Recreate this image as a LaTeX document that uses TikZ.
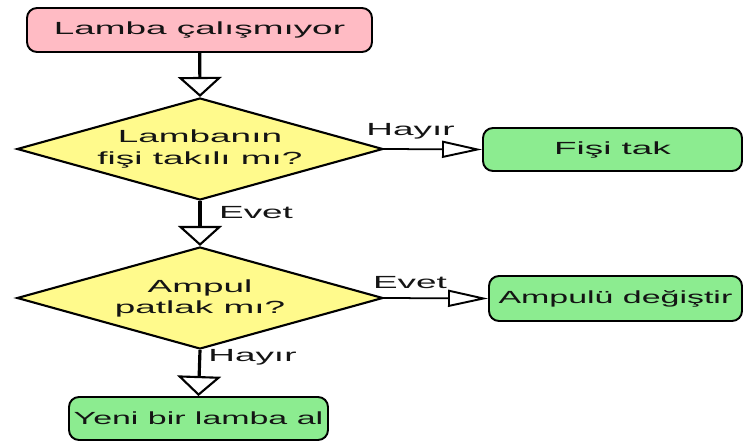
\documentclass[tikz,border=0pt]{standalone}
\usepackage{fontspec}
\newfontfamily\flowfont[FakeStretch=2.1]{Liberation Sans}
\newfontfamily\snugfont[FakeStretch=1.93]{Liberation Sans}
\usetikzlibrary{shapes.geometric,arrows.meta}
\definecolor{startpink}{RGB}{255,187,196}
\definecolor{askyellow}{RGB}{255,250,140}
\definecolor{dogreen}{RGB}{140,236,144}

\begin{document}
\begin{tikzpicture}[line width=1.1pt, font=\flowfont, text=black!92]
\tikzset{startbox/.style={draw, rectangle, rounded corners=0.2cm, fill=startpink,
minimum width=6.9cm, minimum height=0.88cm},
actbox/.style={draw, rectangle, rounded corners=0.2cm, fill=dogreen,
inner xsep=1pt, minimum height=0.86cm},
question/.style={draw, diamond, fill=askyellow, inner sep=0pt,
minimum width=7.32cm, minimum height=2.04cm, line width=1.2pt},
downflow/.style={line width=1.8pt,
-{Triangle[open, length=0.4cm, width=0.88cm, line width=1.2pt]}},
sideflow/.style={line width=1pt,
-{Triangle[open, length=0.8cm, width=0.34cm, line width=1.1pt]}},
answer/.style={inner sep=2pt},
}
\useasboundingbox (0,0) rectangle (14.88,8.82);
\node[startbox] (start) at (3.99,8.22) {Lamba çalışmıyor};
\node[question, label={[align=center]center:Lambanın\\fişi takılı mı?}] (plugq) at (4.0,5.84) {};
\node[actbox, minimum width=5.18cm] (plug) at (12.25,5.83) {Fişi tak};
\node[question, label={[align=center]center:Ampul\\patlak mı?}] (bulbq) at (4.0,2.86) {};
\node[actbox, minimum width=5.06cm, minimum height=0.9cm, font=\snugfont] (bulb) at (12.31,2.85) {Ampulü değiştir};
\node[actbox, minimum width=5.18cm, font=\snugfont] (newlamp) at (3.97,0.45) {Yeni bir lamba al};

\draw[downflow] (start) -- (plugq.north);
\draw[sideflow] (plugq.east) -- node[answer, above=3pt, pos=0.27] {Hayır} (plug.west);
\draw[downflow] (plugq.south) -- node[answer, right=8pt, pos=0.26] {Evet} (bulbq.north);
\draw[sideflow] (bulbq.east) -- node[answer, above=3pt, pos=0.25] {Evet} (bulb.west);
\draw[downflow] (bulbq.south) -- node[answer, right=2pt, pos=0.15] {Hayır} (newlamp.north);
\end{tikzpicture}
\end{document}
